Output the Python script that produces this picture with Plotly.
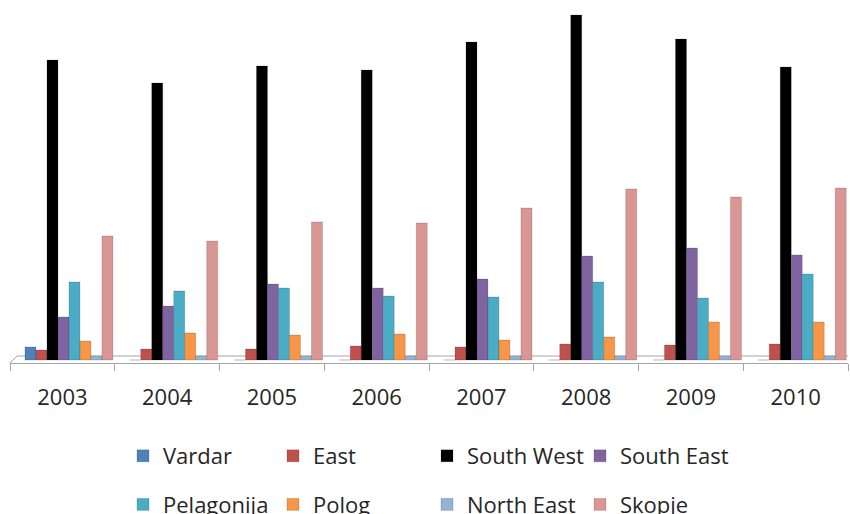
import plotly.graph_objects as go

# Regional values per year (arbitrary units)
years = ["2003", "2004", "2005", "2006", "2007", "2008", "2009", "2010"]
vardar = [13, 0, 0, 0, 0, 0, 0, 0]
east = [10, 11, 11, 14, 13, 16, 15, 16]
south_west = [300, 277, 294, 290, 318, 345, 321, 293]
south_east = [43, 54, 76, 72, 81, 104, 112, 105]
pelagonija = [78, 69, 72, 64, 63, 78, 62, 86]
polog = [19, 27, 25, 26, 20, 23, 38, 38]
north_east = [4, 4, 4, 4, 4, 4, 4, 4]
skopje = [124, 119, 138, 137, 152, 171, 163, 172]

series = [
    ("Vardar", vardar, "#4F81BD", "legend"),
    ("East", east, "#C0504D", "legend2"),
    ("South West", south_west, "#000000", "legend3"),
    ("South East", south_east, "#8064A2", "legend4"),
    ("Pelagonija", pelagonija, "#4BACC6", "legend"),
    ("Polog", polog, "#F79646", "legend2"),
    ("North East", north_east, "#95B3D7", "legend3"),
    ("Skopje", skopje, "#D99694", "legend4"),
]

W, H = 850, 514
BAR_W = 0.105
START = -0.357

pos = list(range(len(years)))
bounds = [p - 0.5 for p in pos] + [pos[-1] + 0.5]

fig = go.Figure()
for k, (name, vals, color, leg) in enumerate(series):
    fig.add_trace(go.Bar(
        x=pos, y=vals, name=name,
        marker=dict(color=color, line=dict(color="rgba(0,0,0,0.25)", width=0.6)),
        width=BAR_W, offset=START + k * BAR_W,
        legend=leg, legendgroup=name,
    ))

grey = "#A6A6A6"
# floor of the chart: back edge and left slanted edge
fig.add_shape(type="line", xref="x", yref="y", x0=-0.433, x1=7.5, y0=4, y1=4,
              line=dict(color=grey, width=1), layer="below")
fig.add_shape(type="line", xref="x", yref="y", x0=-0.5, x1=-0.433, y0=-3, y1=4,
              line=dict(color=grey, width=1), layer="below")

font = dict(family="Open Sans", size=22, color="#262626")

def legend_box(px_x, px_y):
    return dict(
        x=px_x / W, y=1 - px_y / H, xref="container", yref="container",
        xanchor="left", yanchor="top", orientation="v",
        font=font, bgcolor="rgba(0,0,0,0)", tracegroupgap=17,
        itemclick=False, itemdoubleclick=False,
    )

fig.update_layout(
    width=W, height=H,
    margin=dict(l=10, r=2, t=5, b=H - 363, autoexpand=False),
    paper_bgcolor="white", plot_bgcolor="white",
    barmode="overlay",
    showlegend=True,
    legend=legend_box(123, 435),
    legend2=legend_box(273, 435),
    legend3=legend_box(427, 435),
    legend4=legend_box(580, 435),
    xaxis=dict(
        range=[bounds[0], bounds[-1]],
        tickmode="array", tickvals=pos, ticktext=years, ticks="",
        minor=dict(tickmode="array", tickvals=bounds, ticks="outside",
                   ticklen=7, tickcolor=grey, showgrid=False),
        showline=True, linecolor=grey, linewidth=1,
        showgrid=False, zeroline=False, tickfont=font, ticklabelstandoff=15,
    ),
    yaxis=dict(range=[-3, 355], visible=False, showgrid=False, zeroline=False),
)

fig.write_html("out.html")
